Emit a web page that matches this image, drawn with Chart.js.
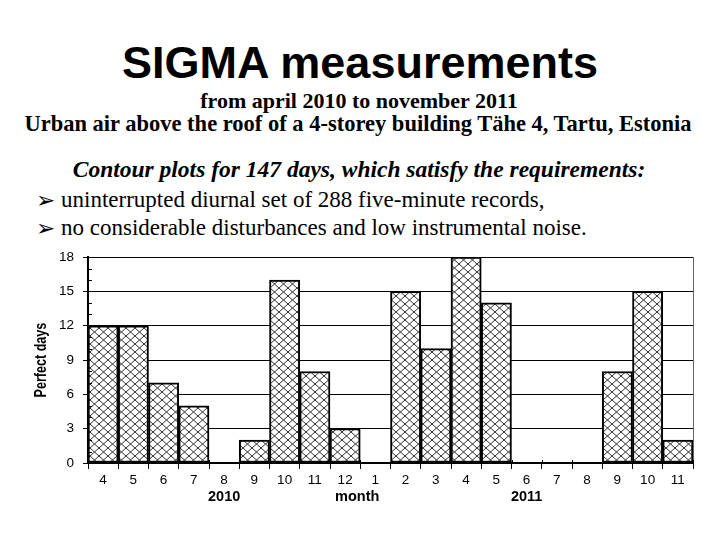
<!DOCTYPE html>
<html>
<head>
<meta charset="utf-8">
<script src="https://cdn.jsdelivr.net/npm/chart.js@4"></script>
<style>
    html, body { margin: 0; padding: 0; background: #fff; }
    body { width: 720px; height: 539px; position: relative; overflow: hidden; }
    .txt { position: absolute; white-space: nowrap; line-height: 1; color: #000; }
    .title { font: bold 45px 'Liberation Sans', Arial, sans-serif; left: 0; width: 720px; text-align: center; top: 37px; }
    .serif { font-family: 'Liberation Serif', 'Times New Roman', serif; }
    .arrow { font-family: 'DejaVu Sans', sans-serif; font-size: 23px; position: relative; top: 1px; }
    #wrap { position: absolute; left: 0; top: 240px; width: 720px; height: 299px; }
</style>
</head>
<body>
<div class="txt title">SIGMA measurements</div>
<div class="txt serif" style="font-size:22px;font-weight:bold;left:0;width:718px;text-align:center;top:90px;">from april 2010 to november 2011</div>
<div class="txt serif" style="font-size:22.5px;font-weight:bold;left:0;width:716px;text-align:center;top:113px;">Urban air above the roof of a 4-storey building Tähe 4, Tartu, Estonia</div>
<div class="txt serif" style="font-size:23.5px;font-weight:bold;font-style:italic;left:0;width:718px;text-align:center;top:158px;">Contour plots for 147 days, which satisfy the requirements:</div>
<div class="txt serif" style="font-size:23px;left:36px;top:188px;"><span class="arrow">➢</span> uninterrupted diurnal set of 288 five-minute records,</div>
<div class="txt serif" style="font-size:23px;left:36px;top:216px;"><span class="arrow">➢</span> no considerable disturbances and low instrumental noise.</div>
<div id="wrap"><canvas id="sigmaChart" width="720" height="299"></canvas></div>

<script>
// month numbers, April 2010 .. November 2011
const months = ['4', '5', '6', '7', '8', '9', '10', '11', '12', '1', '2', '3', '4', '5', '6', '7', '8', '9', '10', '11'];
const monthYears = [2010, 2010, 2010, 2010, 2010, 2010, 2010, 2010, 2010,
    2011, 2011, 2011, 2011, 2011, 2011, 2011, 2011, 2011, 2011, 2011];
const perfectDays = [12, 12, 7, 5, 0, 2, 16, 8, 3, 0, 15, 10, 18, 14, 0, 0, 0, 8, 15, 2];
const yMax = 18;
const yStep = 3;
const xTitle = 'month';
const yTitle = 'Perfect days';

function makeHatch() {
    const c = document.createElement('canvas');
    c.width = 9;
    c.height = 8;
    const g = c.getContext('2d');
    g.fillStyle = '#fff';
    g.fillRect(0, 0, 9, 8);
    g.strokeStyle = '#333';
    g.lineWidth = 1;
    g.beginPath();
    g.moveTo(0, 0); g.lineTo(9, 8);
    g.moveTo(9, 0); g.lineTo(0, 8);
    g.stroke();
    return g.createPattern(c, 'repeat');
}

// minor ticks, right frame line, year labels and axis titles
const extras = {
    id: 'extras',
    afterDraw(chart) {
        const { ctx, chartArea: a, scales: { x, y } } = chart;
        ctx.save();
        ctx.strokeStyle = '#666';
        ctx.lineWidth = 1;
        ctx.beginPath();
        ctx.moveTo(a.right + 0.5, a.top);
        ctx.lineTo(a.right + 0.5, a.bottom);
        ctx.stroke();

        ctx.strokeStyle = '#000';
        ctx.beginPath();
        for (let v = 0; v <= yMax; v++) {
            if (v % yStep === 0) continue;
            const py = Math.round(y.getPixelForValue(v)) + 0.5;
            ctx.moveTo(a.left, py);
            ctx.lineTo(a.left + 4, py);
        }
        const step = x.getPixelForValue(1) - x.getPixelForValue(0);
        for (let i = 0; i <= months.length; i++) {
            const px = Math.round(x.getPixelForValue(i) - step / 2) + 0.5;
            ctx.moveTo(px, a.bottom);
            ctx.lineTo(px, a.bottom - 3);
        }
        ctx.stroke();

        ctx.fillStyle = '#000';
        ctx.font = 'bold 14.5px "Liberation Sans", Arial, sans-serif';
        ctx.textAlign = 'center';
        ctx.textBaseline = 'middle';
        const years = [...new Set(monthYears)];
        years.forEach(yr => {
            const first = monthYears.indexOf(yr);
            const last = monthYears.lastIndexOf(yr);
            ctx.fillText(String(yr), x.getPixelForValue((first + last) / 2), a.bottom + 34);
        });
        const split = monthYears.indexOf(years[1]);
        ctx.fillText(xTitle, x.getPixelForValue(split) - step / 2 - 3, a.bottom + 34);

        ctx.translate(41, (a.top + a.bottom) / 2);
        ctx.rotate(-Math.PI / 2);
        ctx.scale(0.74, 1);
        ctx.font = 'bold 17px "Liberation Sans", Arial, sans-serif';
        ctx.fillText(yTitle, 0, 0);
        ctx.restore();
    }
};

const ctxSigma = document.getElementById('sigmaChart').getContext('2d');
const sigmaChart = new Chart(ctxSigma, {
    type: 'bar',
    data: {
        labels: months,
        datasets: [{
            label: yTitle,
            data: perfectDays,
            backgroundColor: makeHatch(),
            borderColor: '#000',
            borderWidth: 2,
            borderSkipped: false,
            barPercentage: 1,
            categoryPercentage: 1
        }]
    },
    options: {
        responsive: false,
        animation: false,
        layout: {
            padding: { top: 17, right: 27, left: 0, bottom: 0 }
        },
        plugins: {
            legend: { display: false },
            tooltip: { enabled: false }
        },
        scales: {
            x: {
                offset: true,
                afterFit: scale => { scale.height = 76; },
                grid: {
                    offset: true,
                    drawOnChartArea: false,
                    color: '#000',
                    tickLength: 6
                },
                border: { color: '#000', width: 2 },
                ticks: {
                    color: '#000',
                    padding: 3,
                    maxRotation: 0,
                    font: { family: 'Liberation Sans', size: 13.5 }
                }
            },
            y: {
                min: 0,
                max: yMax,
                afterFit: scale => { scale.width = 88; },
                grid: {
                    color: '#000',
                    lineWidth: 1,
                    tickLength: 5
                },
                border: { color: '#000', width: 2 },
                ticks: {
                    stepSize: yStep,
                    color: '#000',
                    padding: 9,
                    font: { family: 'Liberation Sans', size: 13.5 }
                }
            }
        }
    },
    plugins: [extras]
});
</script>
</body>
</html>
